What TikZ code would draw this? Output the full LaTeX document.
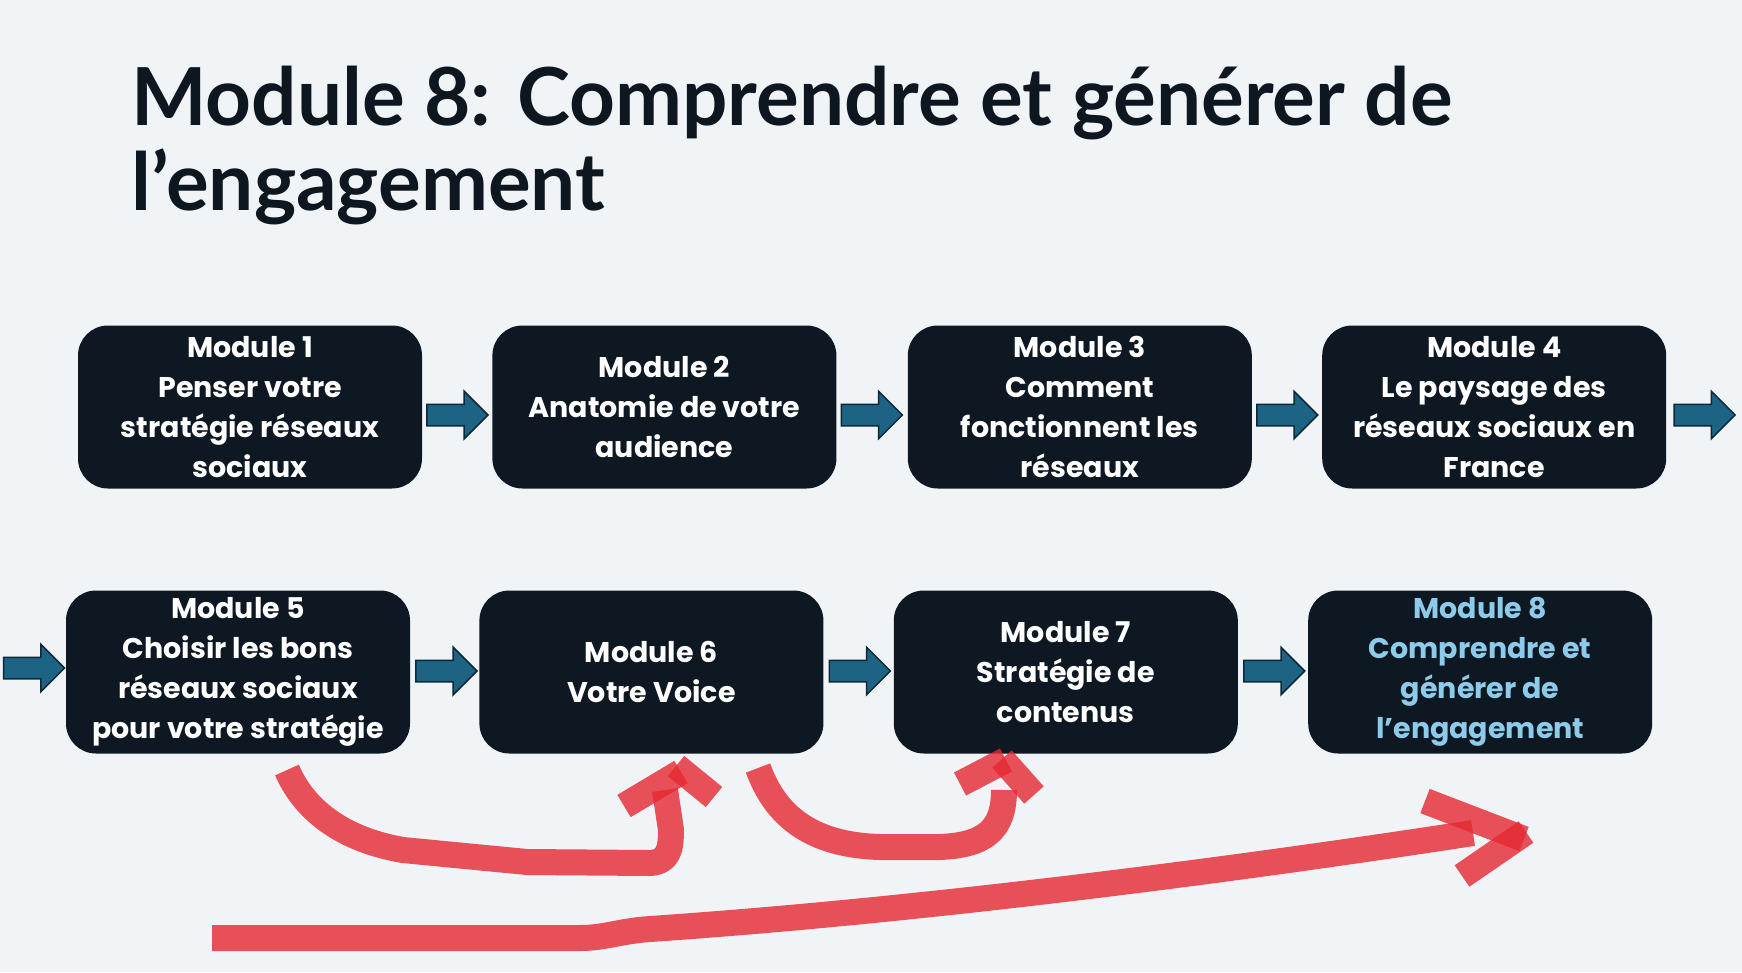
\documentclass[tikz,border=0pt]{standalone}
\usepackage{fontspec}
\setmainfont{Lato}
\newfontfamily\boxfont{Poppins}
\usetikzlibrary{positioning,shapes.arrows,calc}

\definecolor{slidebg}{RGB}{240,244,247}
\definecolor{titleink}{RGB}{14,22,32}
\definecolor{boxfill}{RGB}{14,24,34}
\definecolor{flowblue}{RGB}{29,99,132}
\definecolor{flowedge}{RGB}{14,40,56}
\definecolor{currentblue}{RGB}{141,203,234}
\definecolor{inkred}{RGB}{230,40,50}

\tikzset{
  module/.style={fill=boxfill, rounded corners=30pt, minimum width=344pt, minimum height=163pt,
    inner sep=0pt, align=center, text=white, font=\boxfont\bfseries\fontsize{28.5}{40}\selectfont},
  flowarrow/.style={single arrow, draw=flowedge, fill=flowblue, line width=1.5pt, anchor=tail,
    minimum height=61pt, inner xsep=0pt, inner ysep=10pt, single arrow head extend=13pt},
  scribble/.style={draw=inkred, draw opacity=0.8, line width=26pt, line cap=butt, line join=round}
}

\begin{document}
\begin{tikzpicture}[x=1pt, y=-1pt]
  \fill[slidebg] (0,0) rectangle (1742,972);
  \useasboundingbox (0,0) rectangle (1742,972);

  % title
  \node[anchor=base west, align=left, inner sep=0pt, text=titleink,
        font=\bfseries\fontsize{80}{85}\selectfont] (title) at (131,210)
        {Module 8: Comprendre et générer de\\l’engagement};

  % first row
  \node[module] (m1) at (250,407) {Module 1\\Penser votre\\stratégie réseaux\\sociaux};
  \node[module, right=70pt of m1] (m2) {Module 2\\Anatomie de votre\\audience};
  \node[module, right=71pt of m2] (m3) {Module 3\\Comment\\fonctionnent les\\réseaux};
  \node[module, right=70pt of m3] (m4) {Module 4\\Le paysage des\\réseaux sociaux en\\France};

  % second row
  \node[module] (m5) at (238,672) {Module 5\\Choisir les bons\\réseaux sociaux\\pour votre stratégie};
  \node[module, right=69pt of m5] (m6) {Module 6\\Votre Voice};
  \node[module, right=70pt of m6] (m7) {Module 7\\Stratégie de\\contenus};
  \node[module, right=70pt of m7, text=currentblue] (m8) {Module 8\\Comprendre et\\générer de\\l’engagement};

  % flow arrows
  \foreach \a/\b in {m1/m2, m2/m3, m3/m4}
    \node[flowarrow] (to\b) at ($(\a.east)+(4,8)$) {};
  \foreach \a/\b in {m5/m6, m6/m7, m7/m8}
    \node[flowarrow] (to\b) at ($(\a.east)+(5,-1)$) {};
  \node[flowarrow] (out4) at ($(m4.east)+(7,8)$) {};
  \node[flowarrow] (to5) at ($(m5.west)+(-63,-4)$) {};

  % red marks
  \draw[scribble] (287,770) .. controls (305,812) and (345,840) .. (403,850) -- (527,862) -- (650,863)
    .. controls (668,862) and (671,850) .. (671,830) -- (665,790);
  \draw[scribble] (624,806) -- (681,772);
  \draw[scribble] (676,766) -- (714,797);

  \draw[scribble] (758,768) .. controls (775,815) and (810,845) .. (880,847) -- (940,847)
    .. controls (985,845) and (1004,830) .. (1004,790);
  \draw[scribble] (960,784) -- (1006,760);
  \draw[scribble] (1002,759) -- (1034,795);

  \draw[scribble] (212,938) -- (580,938) .. controls (605,938) and (620,931) .. (650,929)
    .. controls (900,912) and (1200,875) .. (1473,833);
  \draw[scribble] (1425,801) -- (1524,839);
  \draw[scribble] (1526,832) -- (1462,876);
\end{tikzpicture}
\end{document}
